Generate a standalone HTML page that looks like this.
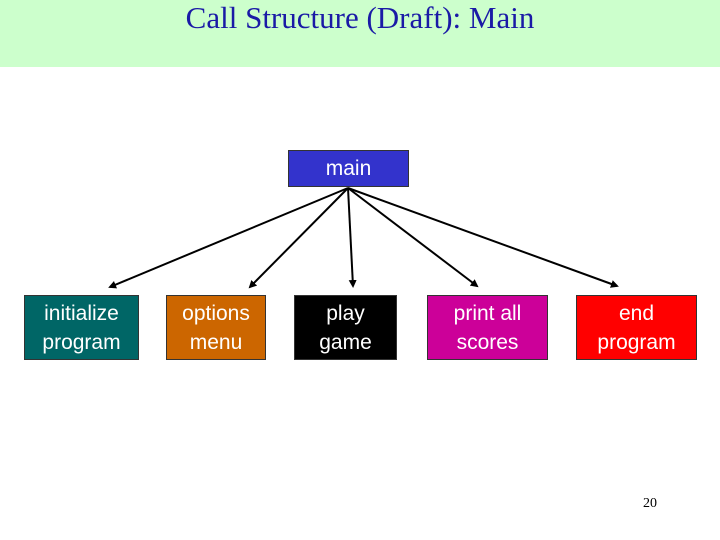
<!DOCTYPE html>
<html><head><style>
body{margin:0;width:720px;height:540px;background:#fff;position:relative;overflow:hidden;font-family:"Liberation Sans",sans-serif}
.hdr{position:absolute;left:0;top:0;width:720px;height:67px;background:#ccffcc}
.t{position:absolute;left:0;width:720px;top:0;text-align:center;font-family:"Liberation Serif",serif;font-size:31px;color:#1a1aa6;line-height:36px}
.b{position:absolute;color:#fff;font-size:21px;line-height:29px;text-align:center;display:flex;align-items:center;justify-content:center;border:1px solid #333;box-sizing:border-box}
</style></head><body>
<div class="hdr"></div>
<div class="t">Call Structure (Draft): Main</div>
<div class="b" style="left:288px;top:150px;width:121px;height:37px;background:#3333cc">main</div>
<div class="b" style="left:24px;top:295px;width:115px;height:65px;background:#006666">initialize<br>program</div>
<div class="b" style="left:166px;top:295px;width:100px;height:65px;background:#cc6600">options<br>menu</div>
<div class="b" style="left:294px;top:295px;width:103px;height:65px;background:#000">play<br>game</div>
<div class="b" style="left:427px;top:295px;width:121px;height:65px;background:#cc0099">print all<br>scores</div>
<div class="b" style="left:576px;top:295px;width:121px;height:65px;background:#ff0000">end<br>program</div>
<svg width="720" height="540" style="position:absolute;left:0;top:0">
<defs><marker id="a" markerWidth="8" markerHeight="8" refX="6" refY="4" orient="auto" markerUnits="userSpaceOnUse"><path d="M0,0L8,4L0,8z" fill="#000"/></marker></defs>
<g stroke="#000" stroke-width="2" marker-end="url(#a)">
<line x1="348" y1="188" x2="110" y2="287"/>
<line x1="348" y1="188" x2="250" y2="287"/>
<line x1="348" y1="188" x2="353" y2="286"/>
<line x1="348" y1="188" x2="477" y2="286"/>
<line x1="348" y1="188" x2="617" y2="286"/>
</g></svg>
<div style="position:absolute;left:643px;top:496px;font-family:'Liberation Serif',serif;font-size:14px">20</div>
</body></html>
